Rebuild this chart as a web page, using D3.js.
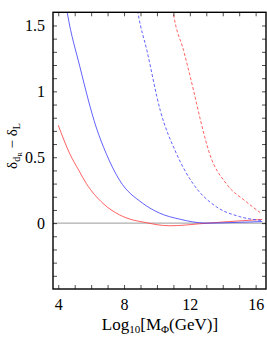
<!DOCTYPE html>
<html>
<head>
<meta charset="utf-8">
<script src="https://cdn.jsdelivr.net/npm/d3@7"></script>
<style>
  body { margin: 0; background: #fff; }
  svg { display: block; font-family: "Liberation Serif", "DejaVu Serif", serif; }
</style>
</head>
<body>
<svg id="chart" width="267" height="347"></svg>
<script>
// ===============================
// Dades (llegides del gràfic)
// ===============================
const redSolidX  = [4.0, 4.69, 5.25, 5.70, 6.71, 7.72, 8.5, 9.3, 10.0, 10.8, 11.7, 12.6, 14.4, 16.4];
const redSolidY  = [0.743, 0.529, 0.40, 0.302, 0.151, 0.063, 0.025, 0.005, -0.012, -0.02, -0.015, -0.005, 0.012, 0.028];

const blueSolidX = [4.45, 4.55, 5.32, 6.30, 6.91, 7.72, 9.13, 10.16, 11.38, 12.99, 14.5, 16.4];
const blueSolidY = [1.67, 1.595, 1.184, 0.73, 0.529, 0.327, 0.151, 0.076, 0.030, 0.0, 0.004, 0.012];

const blueDashX  = [8.78, 8.85, 9.39, 10.2, 11.18, 12.18, 13.6, 15.01, 16.35];
const blueDashY  = [1.65, 1.595, 1.31, 0.856, 0.529, 0.302, 0.125, 0.05, 0.02];

const redDashX   = [10.97, 11.01, 11.62, 12.22, 12.65, 13.19, 14.21, 15.42, 16.36];
const redDashY   = [1.62, 1.587, 1.31, 1.01, 0.78, 0.53, 0.30, 0.163, 0.072];

const xLabelTicks = [4, 8, 12, 16];
const xMinorTicks = d3.range(4, 16.5, 1);
const yLabelTicks = [0, 0.5, 1, 1.5];
const yMinorTicks = d3.range(-4, 16, 1).map(d => d / 10);

// ===============================
// Escales
// ===============================
const svg = d3.select("#chart");
const plotLeft = 53, plotRight = 266, plotTop = 12.3, plotBottom = 289;

const x = d3.scaleLinear().domain([3.68, 16.63]).range([plotLeft, plotRight]);
const y = d3.scaleLinear().domain([-0.5, 1.6]).range([plotBottom, plotTop]);

svg.append("defs").append("clipPath")
  .attr("id", "plot-clip")
  .append("rect")
  .attr("x", plotLeft).attr("y", plotTop)
  .attr("width", plotRight - plotLeft).attr("height", plotBottom - plotTop);

// línia de zero
svg.append("line")
  .attr("x1", plotLeft).attr("x2", plotRight)
  .attr("y1", y(0)).attr("y2", y(0))
  .attr("stroke", "#9a9a9a")
  .attr("stroke-width", 1);

// ===============================
// Corbes
// ===============================
const line = d3.line()
  .x(d => x(d[0]))
  .y(d => y(d[1]))
  .curve(d3.curveMonotoneX);

const series = [
  { xs: redSolidX,  ys: redSolidY,  color: "#ff3a3a", dash: null },
  { xs: blueSolidX, ys: blueSolidY, color: "#3a3aff", dash: null },
  { xs: blueDashX,  ys: blueDashY,  color: "#3a3aff", dash: "3,2" },
  { xs: redDashX,   ys: redDashY,   color: "#ff3a3a", dash: "3,2" }
];

const curves = svg.append("g").attr("clip-path", "url(#plot-clip)");

series.forEach(s => {
  curves.append("path")
    .datum(s.xs.map((v, i) => [v, s.ys[i]]))
    .attr("d", line)
    .attr("fill", "none")
    .attr("stroke", s.color)
    .attr("stroke-width", 0.8)
    .attr("stroke-dasharray", s.dash);
});

// ===============================
// Eixos (ticks cap endins, als quatre costats)
// ===============================
function tickAxis(axis, transform) {
  const g = svg.append("g").attr("transform", transform).call(axis);
  g.select(".domain").remove();
  g.selectAll("line").attr("stroke", "#000").attr("stroke-width", 0.7);
  return g;
}

tickAxis(d3.axisBottom(x).tickValues(xMinorTicks).tickSize(-4).tickFormat(""), `translate(0,${plotBottom})`);
tickAxis(d3.axisTop(x).tickValues(xMinorTicks).tickSize(-4).tickFormat(""), `translate(0,${plotTop})`);
tickAxis(d3.axisLeft(y).tickValues(yMinorTicks).tickSize(-4).tickFormat(""), `translate(${plotLeft},0)`);
tickAxis(d3.axisRight(y).tickValues(yMinorTicks).tickSize(-4).tickFormat(""), `translate(${plotRight},0)`);

// etiquetes
const xLab = svg.append("g")
  .attr("transform", `translate(0,${plotBottom})`)
  .call(d3.axisBottom(x).tickValues(xLabelTicks).tickSize(0).tickPadding(10).tickFormat(d3.format("d")));
xLab.select(".domain").remove();
xLab.selectAll("text")
  .style("font-family", "Liberation Serif")
  .style("font-size", "16px")
  .attr("fill", "#000");

const yLab = svg.append("g")
  .attr("transform", `translate(${plotLeft},0)`)
  .call(d3.axisLeft(y).tickValues(yLabelTicks).tickSize(0).tickPadding(8).tickFormat(d => String(d)));
yLab.select(".domain").remove();
yLab.selectAll("text")
  .style("font-family", "Liberation Serif")
  .style("font-size", "16px")
  .attr("fill", "#000");

// marc
svg.append("rect")
  .attr("x", plotLeft).attr("y", plotTop)
  .attr("width", plotRight - plotLeft).attr("height", plotBottom - plotTop)
  .attr("fill", "none")
  .attr("stroke", "#000")
  .attr("stroke-width", 1.4);

// ===============================
// Títols dels eixos
// ===============================
const xTitle = svg.append("text")
  .attr("x", 160)
  .attr("y", 330)
  .attr("text-anchor", "middle")
  .style("font-size", "17px");
xTitle.append("tspan").text("Log");
xTitle.append("tspan").attr("dy", 3).style("font-size", "11px").text("10");
xTitle.append("tspan").attr("dy", -3).text("[M");
xTitle.append("tspan").attr("dy", 3).style("font-size", "11px").text("Φ");
xTitle.append("tspan").attr("dy", -3).text("(GeV)]");

const yTitle = svg.append("text")
  .attr("transform", "translate(17,146) rotate(-90)")
  .attr("text-anchor", "middle")
  .style("font-size", "15px");
yTitle.append("tspan").text("δ");
yTitle.append("tspan").attr("dy", 3).style("font-size", "10px").text("d");
yTitle.append("tspan").attr("dy", 2).style("font-size", "7px").text("R");
yTitle.append("tspan").attr("dy", -5).text(" − δ");
yTitle.append("tspan").attr("dy", 3).style("font-size", "10px").text("L");
</script>
</body>
</html>
